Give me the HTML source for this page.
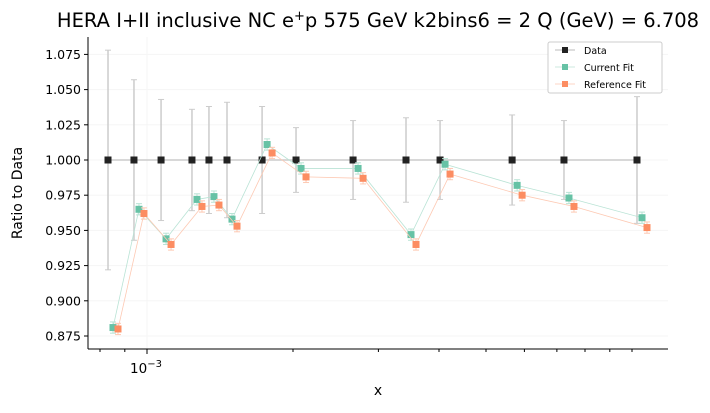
<!DOCTYPE html>
<html><head><meta charset="utf-8"><style>
body{margin:0;background:#fff}
svg{font-family:"DejaVu Sans","Liberation Sans",sans-serif}
</style></head><body>
<svg id="chart" width="710" height="408">
<text x="378" y="27" font-size="19.5" text-anchor="middle">HERA I+II inclusive NC e<tspan dy="-7" font-size="13">+</tspan><tspan dy="7">p 575 GeV k2bins6 = 2 Q (GeV) = 6.708</tspan></text>
<g id="grid"></g><g id="axes"></g><g id="marks"></g>
<text x="378" y="395" font-size="14" text-anchor="middle">x</text>
<text transform="translate(22,193) rotate(-90)" font-size="14" text-anchor="middle">Ratio to Data</text>
<g>
<rect x="548" y="42" width="114" height="51" rx="2" fill="#fff" stroke="#ccc"/>
<g><line x1="555" x2="575" y1="50" y2="50" stroke="#bbb"/><rect x="562" y="47" width="6" height="6" fill="#222"/><text x="584" y="54" font-size="9.5">Data</text></g>
<g><line x1="555" x2="575" y1="67" y2="67" stroke="#cde9df"/><rect x="562" y="64" width="6" height="6" fill="#66c2a5"/><text x="584" y="71" font-size="9.5">Current Fit</text></g>
<g><line x1="555" x2="575" y1="84" y2="84" stroke="#fcd5c4"/><rect x="562" y="81" width="6" height="6" fill="#fc8d62"/><text x="584" y="88" font-size="9.5">Reference Fit</text></g>
</g>
</svg>
<script>
const xVals=[8.31e-4,9.40e-4,1.069e-3,1.238e-3,1.342e-3,1.462e-3,1.727e-3,2.029e-3,2.66e-3,3.42e-3,4.02e-3,5.66e-3,7.24e-3,1.024e-2];
const dataVals=[1,1,1,1,1,1,1,1,1,1,1,1,1,1];
const dataErr=[0.078,0.057,0.043,0.036,0.038,0.041,0.038,0.023,0.028,0.030,0.028,0.032,0.028,0.045];
const curVals=[0.881,0.965,0.944,0.972,0.974,0.958,1.011,0.994,0.994,0.947,0.997,0.982,0.973,0.959];
const curErr=[0.004,0.004,0.004,0.004,0.004,0.004,0.004,0.004,0.004,0.004,0.004,0.004,0.004,0.004];
const refVals=[0.880,0.962,0.940,0.967,0.968,0.953,1.005,0.988,0.987,0.940,0.990,0.975,0.967,0.952];
const refErr=[0.004,0.004,0.004,0.004,0.004,0.004,0.004,0.004,0.004,0.004,0.004,0.004,0.004,0.004];
const yTicks=[0.875,0.900,0.925,0.950,0.975,1.000,1.025,1.050,1.075];
const NS="http://www.w3.org/2000/svg";
const L=88,R=668,T=37,B=349;
const xs=v=>147+485*(Math.log10(v)+3);
const ys=v=>160-(v-1)*1408;
function mk(p,tag,a){const e=document.createElementNS(NS,tag);for(const k in a)e.setAttribute(k,a[k]);p.appendChild(e);return e;}
const grid=document.getElementById('grid'),axes=document.getElementById('axes'),marks=document.getElementById('marks');
yTicks.forEach(t=>{const y=ys(t);
 const g=mk(grid,'line',{x1:L,x2:R,y1:y,y2:y,stroke:'#f5f5f5'});
 
 
 mk(axes,'line',{x1:L-4,x2:L,y1:y,y2:y,stroke:'#000'});
 const tx=mk(axes,'text',{x:L-7,y:y+4.5,'font-size':12.5,'text-anchor':'end'});
 tx.textContent=t.toFixed(3);
 
 
});
mk(grid,'line',{x1:xs(1e-3),x2:xs(1e-3),y1:T,y2:B,stroke:'#f5f5f5'});
[8e-4,9e-4,2e-3,3e-3,4e-3,5e-3,6e-3,7e-3,8e-3,9e-3,1e-2].forEach(v=>{const x=xs(v);mk(axes,'line',{x1:x,x2:x,y1:B,y2:B+3,stroke:'#000'});});
mk(axes,'line',{x1:xs(1e-3),x2:xs(1e-3),y1:B,y2:B+5,stroke:'#000'});
const xl=mk(axes,'text',{x:xs(1e-3)-1,y:B+24,'font-size':13.5,'text-anchor':'middle'});
xl.innerHTML='10<tspan dy="-6" font-size="10">−3</tspan>';


mk(axes,'line',{x1:L,x2:L,y1:T,y2:B,stroke:'#000'});
mk(axes,'line',{x1:L,x2:R,y1:B,y2:B,stroke:'#000'});
function series(vals,err,off,col,lcol,name,dark){
 const pts=xVals.map((v,i)=>(xs(v)+off)+','+ys(vals[i])).join(' ');
 const pl=mk(marks,'polyline',{points:pts,fill:'none',stroke:lcol,'stroke-width':dark?1.5:0.8});
 
 
 xVals.forEach((v,i)=>{const x=xs(v)+off,y1=ys(vals[i]+err[i]),y2=ys(vals[i]-err[i]);
  const ec=dark?'#ccc':lcol;
  mk(marks,'line',{x1:x,x2:x,y1:y1,y2:y2,stroke:ec,'stroke-width':dark?1.5:1});
  mk(marks,'line',{x1:x-3,x2:x+3,y1:y1,y2:y1,stroke:ec});
  mk(marks,'line',{x1:x-3,x2:x+3,y1:y2,y2:y2,stroke:ec});
  const r=mk(marks,'rect',{x:x-3.5,y:ys(vals[i])-3.5,width:7,height:7,fill:col});
  
  
 });
}
series(dataVals,dataErr,0,'#222','#ccc','data',true);
series(curVals,curErr,5,'#66c2a5','#b9e3d5','current-fit',false);
series(refVals,refErr,10,'#fc8d62','#fdc9b3','reference-fit',false);
</script>
</body></html>
